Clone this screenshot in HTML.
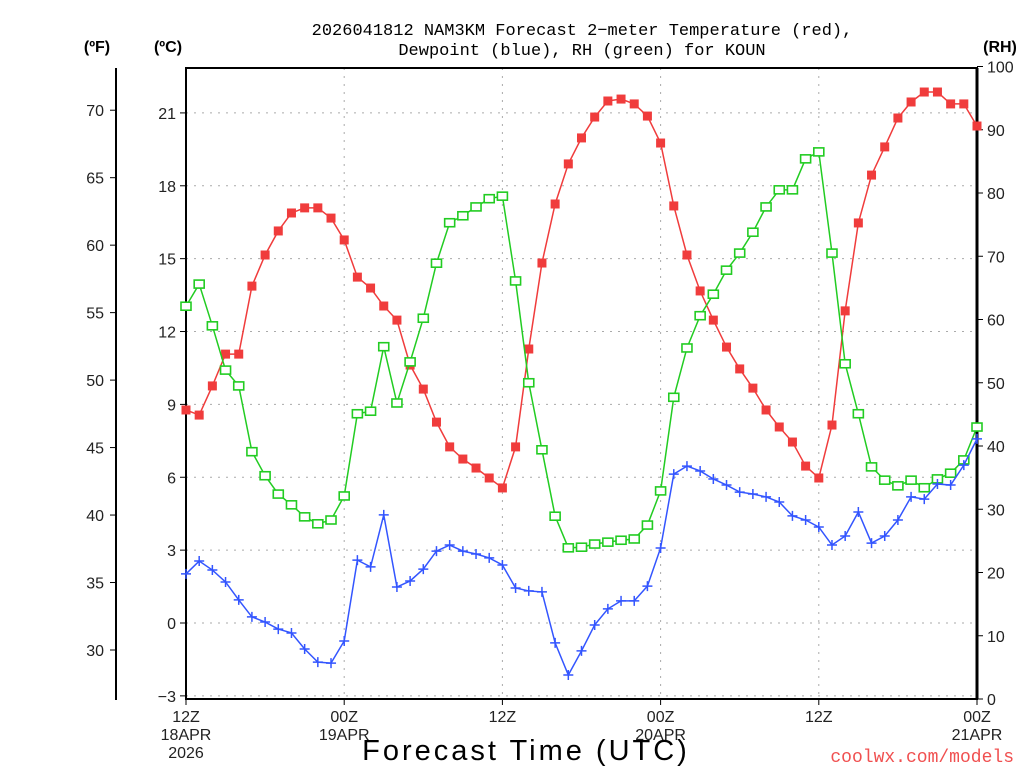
<!DOCTYPE html>
<html><head><meta charset="utf-8"><style>
html,body{margin:0;padding:0;background:#fff;}
svg{display:block;font-family:"Liberation Sans","DejaVu Sans",sans-serif;}
</style></head>
<body>
<svg id="chart" width="1024" height="768" viewBox="0 0 1024 768"></svg>
<script>
const hours = Array.from({length:61},(_,i)=>i);
const tempC = [8.77,8.56,9.76,11.07,11.07,13.87,15.15,16.14,16.88,17.09,17.09,16.67,15.77,14.24,13.79,13.05,12.47,10.62,9.63,8.27,7.25,6.75,6.38,5.97,5.56,7.25,11.28,14.82,17.25,18.90,19.97,20.83,21.49,21.57,21.37,20.87,19.76,17.17,15.15,13.67,12.47,11.36,10.46,9.67,8.77,8.07,7.45,6.46,5.97,8.15,12.85,16.47,18.44,19.60,20.79,21.45,21.86,21.86,21.37,21.37,20.46];
const dewC = [2.02,2.55,2.18,1.69,0.95,0.25,0.04,-0.25,-0.41,-1.07,-1.61,-1.65,-0.74,2.59,2.31,4.45,1.48,1.73,2.22,2.96,3.21,2.96,2.84,2.68,2.39,1.44,1.32,1.28,-0.82,-2.14,-1.15,-0.08,0.58,0.91,0.91,1.52,3.09,6.13,6.46,6.26,5.93,5.68,5.39,5.31,5.19,4.98,4.41,4.24,3.95,3.21,3.58,4.57,3.29,3.58,4.24,5.19,5.10,5.72,5.68,6.50,7.58];
const rh = [62.1,65.6,59.0,52.0,49.5,39.1,35.3,32.4,30.7,28.8,27.7,28.3,32.1,45.1,45.5,55.7,46.8,53.3,60.2,68.9,75.3,76.4,77.8,79.1,79.5,66.1,50.0,39.4,28.9,23.9,24.0,24.5,24.8,25.1,25.3,27.5,32.9,47.7,55.5,60.6,64.0,67.8,70.5,73.8,77.8,80.5,80.5,85.4,86.5,70.5,53.0,45.1,36.7,34.6,33.7,34.6,33.4,34.8,35.7,37.8,43.0];
const cTicks = [-3,0,3,6,9,12,15,18,21];
const fTicks = [30,35,40,45,50,55,60,65,70];
const rhTicks = [0,10,20,30,40,50,60,70,80,90,100];
const xTickHours = [0,12,24,36,48,60];
const xTickLabels = [["12Z","18APR","2026"],["00Z","19APR"],["12Z"],["00Z","20APR"],["12Z"],["00Z","21APR"]];

const L=186,R=977,T=68,B=699;
const xS=h=>L+h*(R-L)/60;
const yC=c=>623-c*24.29;
const yF=f=>yC((f-32)*5/9);
const yRH=v=>699-v*6.325;
const svg=document.getElementById('chart');
const NS='http://www.w3.org/2000/svg';
function mk(tag,attrs,parent){const e=document.createElementNS(NS,tag);for(const k in attrs)e.setAttribute(k,attrs[k]);(parent||svg).appendChild(e);return e;}
function txt(s,x,y,attrs){const e=mk('text',Object.assign({x:x,y:y},attrs));e.textContent=s;return e;}
const MONO='"Liberation Mono", monospace';

const grid=mk('g',{});


cTicks.forEach(c=>{mk('line',{x1:L,x2:R,y1:yC(c),y2:yC(c),stroke:'#aaa','stroke-width':1,'stroke-dasharray':'2,6'},grid);});
xTickHours.slice(1,5).forEach(h=>{mk('line',{x1:xS(h),x2:xS(h),y1:T,y2:B,stroke:'#aaa','stroke-width':1,'stroke-dasharray':'2,6'},grid);});

const tt=txt('2026041812 NAM3KM Forecast 2\u2212meter Temperature (red),',582,35,{'font-size':17,'text-anchor':'middle',fill:'#000','font-family':MONO});


const tt2=txt('Dewpoint (blue), RH (green) for KOUN',582,55,{'font-size':17,'text-anchor':'middle',fill:'#000','font-family':MONO});



[['(ºF)',97,'f-axis-unit'],['(ºC)',168,'c-axis-unit'],['(RH)',1000,'rh-axis-unit']].forEach(a=>{const e=txt(a[0],a[1],52,{'font-size':16,'font-weight':'bold','text-anchor':'middle'});});

const fAx=mk('g',{});


mk('line',{x1:116,x2:116,y1:68,y2:700,stroke:'#000','stroke-width':2},fAx);
fTicks.forEach(f=>{mk('line',{x1:110,x2:116,y1:yF(f),y2:yF(f),stroke:'#000'},fAx);const e=txt(String(f),104,yF(f)+6,{'font-size':16,'text-anchor':'end',fill:'#222'});fAx.appendChild(e);});

const cAx=mk('g',{});


cTicks.forEach(c=>{mk('line',{x1:180,x2:186,y1:yC(c),y2:yC(c),stroke:'#000'},cAx);const e=txt(c<0?'\u2212'+Math.abs(c):String(c),176,yC(c)+6,{'font-size':16,'text-anchor':'end',fill:'#222'});cAx.appendChild(e);});

const rAx=mk('g',{});


rhTicks.forEach(v=>{mk('line',{x1:R,x2:R+6,y1:yRH(v),y2:yRH(v),stroke:'#000'},rAx);const e=txt(String(v),987,yRH(v)+6,{'font-size':16,'text-anchor':'start',fill:'#222'});rAx.appendChild(e);});

const fr=mk('rect',{x:L,y:T,width:R-L,height:B-T,fill:'none',stroke:'#000','stroke-width':2});


mk('line',{x1:R,x2:R,y1:T,y2:B,stroke:'#000','stroke-width':3});

const xAx=mk('g',{});


xTickHours.forEach((h,i)=>{mk('line',{x1:xS(h),x2:xS(h),y1:B,y2:B+6,stroke:'#000'},xAx);xTickLabels[i].forEach((s,j)=>{const e=txt(s,xS(h),722+j*18,{'font-size':16,'text-anchor':'middle',fill:'#222'});xAx.appendChild(e);});});
const xt=txt('Forecast Time (UTC)',526,760,{'font-size':29,'text-anchor':'middle','letter-spacing':'3'});


const cr=txt('coolwx.com/models',1014,762,{'font-size':18,'text-anchor':'end',fill:'#f05050','font-family':MONO});



function series(vals,yf,color,name){
  const g=mk('g',{});
  
  
  mk('polyline',{points:vals.map((v,i)=>xS(hours[i])+','+yf(v)).join(' '),fill:'none',stroke:color,'stroke-width':1.5},g);
  return g;
}
const gT=series(tempC,yC,'#f03c3c','temperature-series');
tempC.forEach((v,i)=>{const m=mk('rect',{x:xS(hours[i])-4.5,y:yC(v)-4.5,width:9,height:9,fill:'#f03c3c'},gT);});
const gR=series(rh,yRH,'#22cc22','rh-series');
rh.forEach((v,i)=>{const m=mk('rect',{x:xS(hours[i])-5,y:yRH(v)-4,width:10,height:8,fill:'#fff',stroke:'#22cc22','stroke-width':1.6},gR);});
const gD=series(dewC,yC,'#3355ff','dewpoint-series');
dewC.forEach((v,i)=>{const x=xS(hours[i]),y=yC(v);const m=mk('path',{d:`M${x-5},${y}H${x+5}M${x},${y-5}V${y+5}`,stroke:'#3355ff','stroke-width':1.5},gD);});
</script>
</body></html>
